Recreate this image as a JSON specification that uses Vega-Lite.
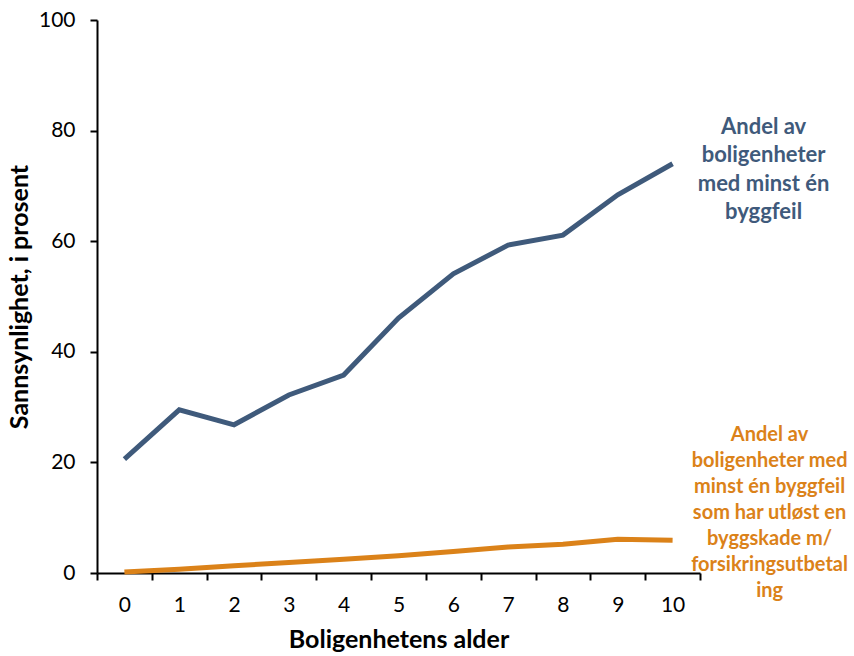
{
  "$schema": "https://vega.github.io/schema/vega-lite/v6.json",
  "width": 603,
  "height": 553,
  "autosize": {"type": "none"},
  "padding": {"left": 97, "top": 20, "right": 154, "bottom": 83},
  "background": "white",
  "config": {
    "view": {"stroke": null},
    "font": "Lato",
    "axis": {
      "domainColor": "black",
      "domainWidth": 2,
      "tickColor": "black",
      "tickWidth": 2,
      "tickSize": 7,
      "labelColor": "black",
      "labelFontSize": 21,
      "titleColor": "black",
      "titleFontSize": 25,
      "titleFontWeight": "bold",
      "grid": false
    }
  },
  "datasets": {
    "linjer": [
      {"serie": "Byggfeil", "alder": 0, "andel": 20.6},
      {"serie": "Byggfeil", "alder": 1, "andel": 29.5},
      {"serie": "Byggfeil", "alder": 2, "andel": 26.8},
      {"serie": "Byggfeil", "alder": 3, "andel": 32.2},
      {"serie": "Byggfeil", "alder": 4, "andel": 35.8},
      {"serie": "Byggfeil", "alder": 5, "andel": 46.1},
      {"serie": "Byggfeil", "alder": 6, "andel": 54.1},
      {"serie": "Byggfeil", "alder": 7, "andel": 59.3},
      {"serie": "Byggfeil", "alder": 8, "andel": 61.1},
      {"serie": "Byggfeil", "alder": 9, "andel": 68.4},
      {"serie": "Byggfeil", "alder": 10, "andel": 74.0},
      {"serie": "Byggskade", "alder": 0, "andel": 0.2},
      {"serie": "Byggskade", "alder": 1, "andel": 0.7},
      {"serie": "Byggskade", "alder": 2, "andel": 1.3},
      {"serie": "Byggskade", "alder": 3, "andel": 1.9},
      {"serie": "Byggskade", "alder": 4, "andel": 2.5},
      {"serie": "Byggskade", "alder": 5, "andel": 3.1},
      {"serie": "Byggskade", "alder": 6, "andel": 3.9},
      {"serie": "Byggskade", "alder": 7, "andel": 4.7},
      {"serie": "Byggskade", "alder": 8, "andel": 5.2},
      {"serie": "Byggskade", "alder": 9, "andel": 6.1},
      {"serie": "Byggskade", "alder": 10, "andel": 5.9}
    ],
    "etiketter": [
      {"serie": "Byggfeil", "alder": 10, "andel": 74.0, "tekst": "Andel av\nboligenheter\nmed minst én\nbyggfeil"},
      {"serie": "Byggskade", "alder": 10, "andel": 5.9, "tekst": "Andel av\nboligenheter med\nminst én byggfeil\nsom har utløst en\nbyggskade m/\nforsikringsutbetal\ning"}
    ]
  },
  "encoding": {
    "x": {
      "field": "alder",
      "type": "ordinal",
      "bandPosition": 0.5,
      "scale": {"type": "band", "paddingInner": 0, "paddingOuter": 0},
      "axis": {"title": "Boligenhetens alder", "labelAngle": 0, "tickBand": "extent", "labelPadding": 14, "titlePadding": 12}
    },
    "y": {
      "field": "andel",
      "type": "quantitative",
      "scale": {"domain": [0, 100], "nice": false},
      "axis": {"title": "Sannsynlighet, i prosent", "values": [0, 20, 40, 60, 80, 100], "labelPadding": 15, "titlePadding": 6}
    },
    "color": {
      "field": "serie",
      "type": "nominal",
      "scale": {"domain": ["Byggfeil", "Byggskade"], "range": ["#3F5A7B", "#DB8219"]},
      "legend": null
    }
  },
  "layer": [
    {
      "data": {"name": "linjer"},
      "mark": {"type": "line", "strokeWidth": 5}
    },
    {
      "data": {"name": "etiketter"},
      "transform": [{"filter": "datum.serie === 'Byggfeil'"}],
      "mark": {"type": "text", "lineBreak": "\n", "fontSize": 22, "fontWeight": "bold", "lineHeight": 28.5, "align": "center", "baseline": "middle", "dx": 91, "dy": -37},
      "encoding": {"text": {"field": "tekst"}}
    },
    {
      "data": {"name": "etiketter"},
      "transform": [{"filter": "datum.serie === 'Byggskade'"}],
      "mark": {"type": "text", "lineBreak": "\n", "fontSize": 20, "fontWeight": "bold", "lineHeight": 26, "align": "center", "baseline": "middle", "dx": 97, "dy": -105},
      "encoding": {"text": {"field": "tekst"}}
    }
  ]
}
